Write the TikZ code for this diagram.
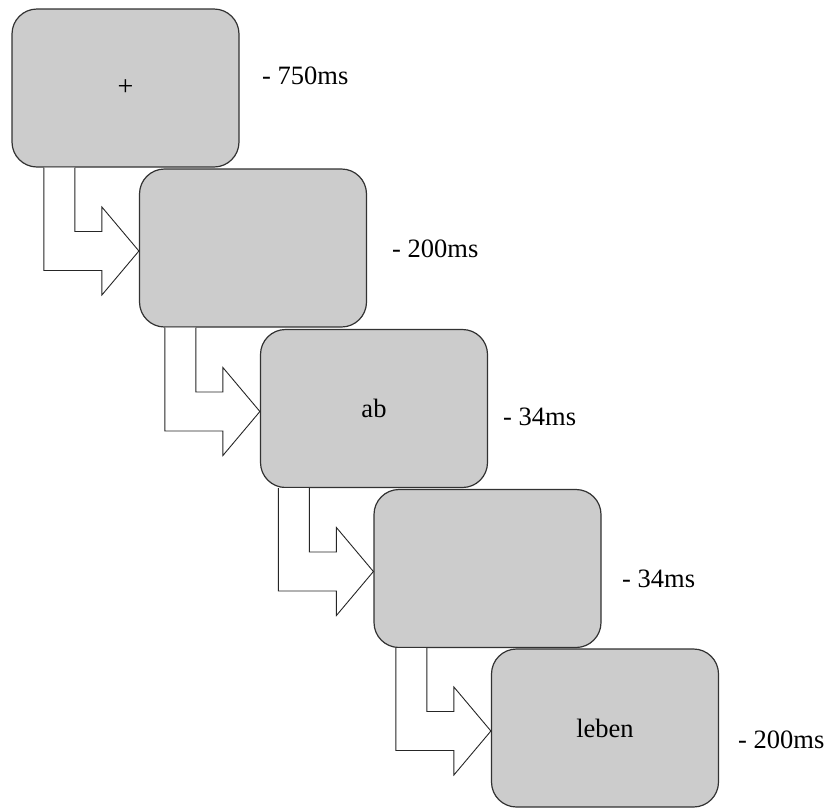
\documentclass[tikz,border=0pt]{standalone}
\usepackage{fontspec}
\setmainfont{Liberation Serif}
\usetikzlibrary{calc}
\definecolor{boxfill}{RGB}{204,204,204}
\definecolor{boxline}{RGB}{50,50,50}
\tikzset{
  screen/.style={draw=boxline, line width=1.2pt, fill=boxfill, rounded corners=25pt,
    minimum width=227pt, minimum height=158pt, inner sep=0pt, font=\fontsize{26.5}{30}\selectfont},
  durlabel/.style={anchor=base west, inner sep=0pt, font=\fontsize{26.5}{30}\selectfont},
  arrowline/.style={draw=black!85, line width=0.9pt, fill=white, line join=miter},
}
\newcommand\flowarrow[2]{%
  \draw[arrowline] let \p1=(#2.west), \p2=(#1.south) in
    (\x1-95pt,\y2) -- (\x1-95pt,\y1-22.5pt) -- (\x1-37pt,\y1-22.5pt) -- (\x1-37pt,\y1-47pt)
    -- (\x1,\y1-3pt) -- (\x1-37pt,\y1+41pt) -- (\x1-37pt,\y1+16.5pt) -- (\x1-64pt,\y1+16.5pt)
    -- (\x1-64pt,\y2);}
\begin{document}
\begin{tikzpicture}[x=1pt,y=-1pt]
\useasboundingbox (0,0) rectangle (827,807);
\node[screen] (s1) at (125.5,88) {\raisebox{-2pt}{\fontsize{28}{30}\selectfont +}};
\node[screen] (s2) at (253,248) {};
\node[screen] (s3) at (374,408.5) {ab};
\node[screen] (s4) at (487.5,568.5) {};
\node[screen] (s5) at (605,728) {\raisebox{-5pt}{leben}};
\flowarrow{s1}{s2}
\flowarrow{s2}{s3}
\flowarrow{s3}{s4}
\flowarrow{s4}{s5}
\node[durlabel] (t1) at (262,84) {- 750ms};
\node[durlabel] (t2) at (392,257) {- 200ms};
\node[durlabel] (t3) at (503,425) {- 34ms};
\node[durlabel] (t4) at (622,587) {- 34ms};
\node[durlabel] (t5) at (738,748) {- 200ms};
\end{tikzpicture}
\end{document}
